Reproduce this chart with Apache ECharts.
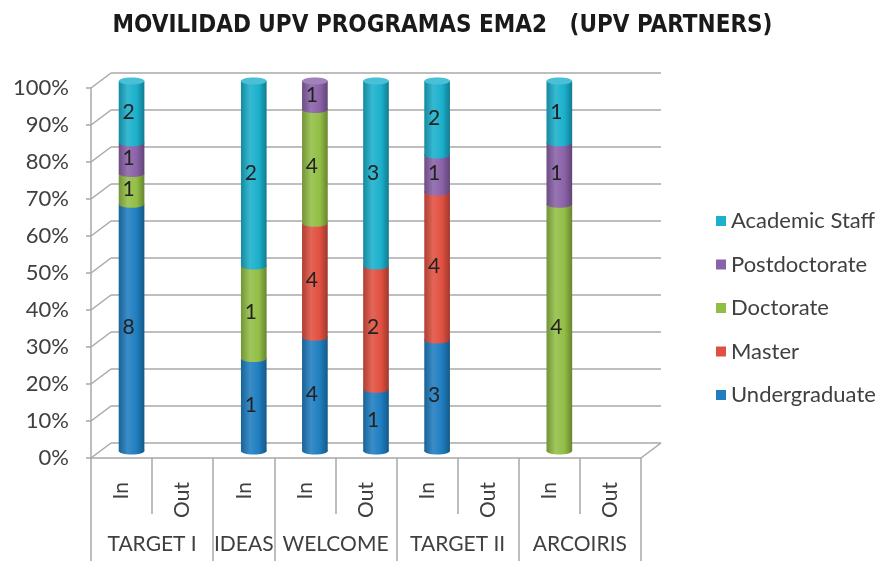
<!DOCTYPE html>
<html>
<head>
<meta charset="utf-8" />
<title></title>
<script src="https://cdn.jsdelivr.net/npm/echarts@6/dist/echarts.min.js"></script>
<style>
html, body { margin: 0; padding: 0; background: #fff; }
#container { width: 885px; height: 561px; }
</style>
</head>
<body>
<div id="container"></div>
<script>
// sub categories (one slot each) and the programme groups they belong to
var subLabels = ['In', 'Out', 'In', 'In', 'Out', 'In', 'Out', 'In', 'Out'];
var groupNames = ['TARGET I', 'IDEAS', 'WELCOME', 'TARGET II', 'ARCOIRIS'];
var groupSpans = [2, 1, 2, 2, 2];

// counts per slot
var seriesNames = ['Undergraduate', 'Master', 'Doctorate', 'Postdoctorate', 'Academic Staff'];
var undergraduate = [8, 0, 1, 4, 1, 3, 0, 0, 0];
var master        = [0, 0, 0, 4, 2, 4, 0, 0, 0];
var doctorate     = [1, 0, 1, 4, 0, 0, 0, 4, 0];
var postdoctorate = [1, 0, 0, 1, 0, 1, 0, 1, 0];
var academicStaff = [2, 0, 2, 0, 3, 2, 0, 1, 0];
var colors = ['#1f7ec0', '#e05040', '#92be45', '#8a62a8', '#1bb0cc'];

var yTicks = [0, 10, 20, 30, 40, 50, 60, 70, 80, 90, 100];

var allCounts = [undergraduate, master, doctorate, postdoctorate, academicStaff];
var totals = subLabels.map(function (_, i) {
	return allCounts.reduce(function (s, a) { return s + a[i]; }, 0);
});

var groupEdges = [0], groupCenters = [];
groupSpans.forEach(function (s) {
	var last = groupEdges[groupEdges.length - 1];
	groupCenters.push(last + s / 2);
	groupEdges.push(last + s);
});
var subTicks = subLabels.map(function (_, i) { return i; }).concat([subLabels.length]);
var subCenters = subLabels.map(function (_, i) { return i + 0.5; });

function shade(hex, amt) {
	var n = parseInt(hex.slice(1), 16);
	var r = n >> 16, g = (n >> 8) & 255, b = n & 255;
	function f(c) {
		c = amt < 0 ? c * (1 + amt) : c + (255 - c) * amt;
		return Math.round(Math.max(0, Math.min(255, c)));
	}
	return 'rgb(' + f(r) + ',' + f(g) + ',' + f(b) + ')';
}

var gray = '#a8a8a8';
var font = 'Lato, "Open Sans", sans-serif';

function cylinderRenderer(color) {
	var grad = new echarts.graphic.LinearGradient(0, 0, 1, 0, [
		{ offset: 0, color: shade(color, -0.22) },
		{ offset: 0.35, color: shade(color, 0.12) },
		{ offset: 0.7, color: color },
		{ offset: 1, color: shade(color, -0.3) }
	]);
	return function (params, api) {
		var n = api.value(3);
		if (!n) return;
		var x = api.value(0);
		var p0 = api.coord([x, api.value(1)]);
		var p1 = api.coord([x, api.value(2)]);
		var w = api.size([1, 0])[0] * 0.42;
		var rx = w / 2, ry = 3.5;
		var children = [
			{ type: 'ellipse', shape: { cx: p0[0], cy: p0[1], rx: rx, ry: ry }, style: { fill: grad } },
			{ type: 'rect', shape: { x: p0[0] - rx, y: p1[1], width: w, height: p0[1] - p1[1] }, style: { fill: grad } }
		];
		if (api.value(4)) {
			children.push({ type: 'ellipse', shape: { cx: p1[0], cy: p1[1], rx: rx, ry: ry }, style: { fill: shade(color, 0.2) } });
		}
		children.push({
			type: 'text',
			style: {
				text: String(n), x: p0[0] - 3, y: (p0[1] + p1[1]) / 2,
				align: 'center', verticalAlign: 'middle',
				fill: '#222', font: '21px ' + font
			}
		});
		return { type: 'group', children: children };
	};
}

var barSeries = seriesNames.map(function (name, k) {
	var data = subLabels.map(function (_, i) {
		var before = 0;
		for (var j = 0; j < k; j++) before += allCounts[j][i];
		var t = totals[i] || 1;
		var start = before / t * 100;
		var end = (before + allCounts[k][i]) / t * 100;
		return [i + 0.5, start, end, allCounts[k][i], end > 99.99 ? 1 : 0];
	});
	return {
		name: name,
		type: 'custom',
		xAxisIndex: 3,
		yAxisIndex: 2,
		itemStyle: { color: colors[k] },
		renderItem: cylinderRenderer(colors[k]),
		data: data,
		z: 5
	};
});

// diagonal edges of the 3D box (left side and floor corner)
var wallSeries = {
	type: 'custom',
	xAxisIndex: 0,
	yAxisIndex: 0,
	silent: true,
	renderItem: function (params, api) {
		var v = api.value(0);
		var p = api.coord([0, v]);
		var kids = [{ type: 'line', shape: { x1: p[0], y1: p[1], x2: p[0] + 20, y2: p[1] - 15 }, style: { stroke: gray, lineWidth: 1.5 } }];
		if (v === 0) {
			var q = api.coord([subLabels.length, 0]);
			kids.push({ type: 'line', shape: { x1: q[0], y1: q[1], x2: q[0] + 20, y2: q[1] - 15 }, style: { stroke: gray, lineWidth: 1.5 } });
		}
		return { type: 'group', children: kids };
	},
	data: yTicks.map(function (v) { return [v]; }),
	z: 1
};

var dom = document.getElementById('container');
var myChart = echarts.init(dom);
var option = {
	animation: false,
	title: {
		text: 'MOVILIDAD UPV PROGRAMAS EMA2   (UPV PARTNERS)',
		left: 'center',
		top: 9,
		textStyle: { fontSize: 24, fontWeight: 'bold', color: '#1a1a1a', fontFamily: '"Liberation Sans Narrow", "DejaVu Sans Condensed", sans-serif' }
	},
	legend: {
		orient: 'vertical',
		left: 711,
		top: 205,
		itemWidth: 10,
		itemHeight: 10,
		itemGap: 21.5,
		icon: 'rect',
		data: seriesNames.slice().reverse(),
		textStyle: { fontSize: 22, color: '#404040', fontFamily: font }
	},
	grid: [
		{ left: 91, right: 244, top: 88, bottom: 103 },
		{ left: 111, right: 224, top: 73, bottom: 118 },
		{ left: 101, right: 234, top: 81, bottom: 110 }
	],
	xAxis: [
		{
			type: 'value', gridIndex: 0, min: 0, max: subLabels.length, position: 'bottom',
			splitLine: { show: false },
			axisLine: { show: true, lineStyle: { color: gray, width: 1.5 } },
			axisTick: { show: true, customValues: subTicks, length: 56, lineStyle: { color: gray, width: 1.5 } },
			axisLabel: {
				customValues: subCenters, rotate: 90, margin: 24,
				formatter: function (v) { return subLabels[Math.floor(v)]; },
				fontSize: 21, color: '#404040', fontFamily: font
			}
		},
		{
			type: 'value', gridIndex: 0, min: 0, max: subLabels.length, position: 'bottom',
			splitLine: { show: false },
			axisLine: { show: false },
			axisTick: { show: true, customValues: groupEdges, length: 103, lineStyle: { color: gray, width: 1.5 } },
			axisLabel: {
				customValues: groupCenters, margin: 76,
				formatter: function (v) { return groupNames[groupCenters.indexOf(v)]; },
				fontSize: 21, color: '#404040', fontFamily: font
			}
		},
		{ type: 'value', gridIndex: 1, min: 0, max: 1, show: false },
		{ type: 'value', gridIndex: 2, min: 0, max: subLabels.length, show: false }
	],
	yAxis: [
		{
			type: 'value', gridIndex: 0, min: 0, max: 100, interval: 10,
			splitLine: { show: false },
			axisLine: { show: true, lineStyle: { color: gray, width: 1.5 } },
			axisTick: { show: true, length: 5, lineStyle: { color: gray, width: 1.5 } },
			axisLabel: { formatter: '{value}%', margin: 22, fontSize: 22, color: '#404040', fontFamily: font }
		},
		{
			type: 'value', gridIndex: 1, min: 0, max: 100, interval: 10,
			axisLine: { show: false }, axisTick: { show: false }, axisLabel: { show: false },
			splitLine: { show: true, lineStyle: { color: gray, width: 1.5 } }
		},
		{ type: 'value', gridIndex: 2, min: 0, max: 100, show: false }
	],
	series: [wallSeries].concat(barSeries)
};
myChart.setOption(option);
</script>
</body>
</html>
